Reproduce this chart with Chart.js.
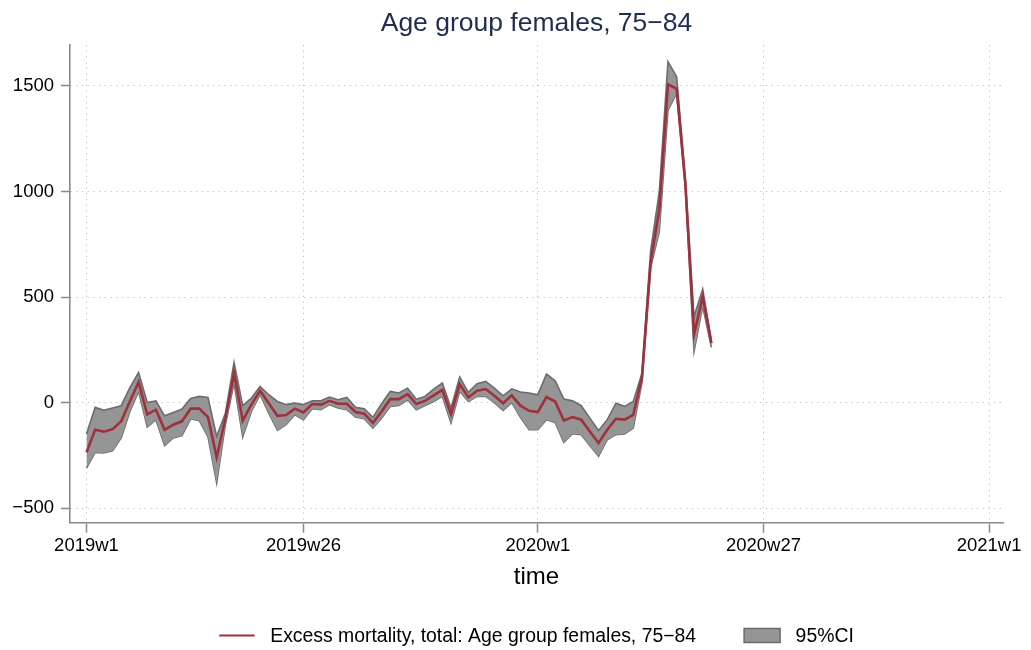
<!DOCTYPE html>
<html>
<head>
<meta charset="utf-8">
<script src="https://cdn.jsdelivr.net/npm/chart.js@4.4.1/dist/chart.umd.min.js"></script>
<style>
  html, body { margin: 0; padding: 0; background: #ffffff; }
  #wrap { width: 1031px; height: 650px; position: relative; }
</style>
</head>
<body>
<div id="wrap"><canvas id="c" width="1031" height="650"></canvas></div>
<script>
// ---- data ----
const weeks = [
  '2019w1','2019w2','2019w3','2019w4','2019w5','2019w6','2019w7','2019w8','2019w9','2019w10',
  '2019w11','2019w12','2019w13','2019w14','2019w15','2019w16','2019w17','2019w18','2019w19','2019w20',
  '2019w21','2019w22','2019w23','2019w24','2019w25','2019w26','2019w27','2019w28','2019w29','2019w30',
  '2019w31','2019w32','2019w33','2019w34','2019w35','2019w36','2019w37','2019w38','2019w39','2019w40',
  '2019w41','2019w42','2019w43','2019w44','2019w45','2019w46','2019w47','2019w48','2019w49','2019w50',
  '2019w51','2019w52','2020w1','2020w2','2020w3','2020w4','2020w5','2020w6','2020w7','2020w8',
  '2020w9','2020w10','2020w11','2020w12','2020w13','2020w14','2020w15','2020w16','2020w17','2020w18',
  '2020w19','2020w20','2020w21'
];
const excess = [
  -235, -128, -137, -125, -88, 6, 98, -55, -33, -128,
  -104, -88, -28, -28, -68, -259, -75, 140, -85, -9,
  57, -2, -62, -58, -28, -46, -6, -9, 9, -5,
  -5, -44, -52, -96, -41, 17, 17, 41, -6, 9,
  35, 61, -54, 88, 25, 57, 65, 33, -2, 35,
  -14, -38, -44, 27, 6, -84, -68, -80, -136, -191,
  -128, -76, -80, -57, 120, 665, 916, 1508, 1486, 1039,
  322, 503, 282
];
const ciUpper = [
  -148, -22, -36, -25, -14, 72, 143, 1, 9, -62,
  -46, -30, 20, 30, 25, -159, -50, 191, -14, 22,
  77, 38, 6, -9, -2, -9, 9, 9, 27, 14,
  25, -22, -28, -69, -5, 54, 46, 69, 17, 30,
  65, 93, -25, 122, 49, 90, 101, 69, 33, 66,
  51, 46, 38, 136, 104, 17, 9, -14, -73, -131,
  -80, -2, -17, 6, 140, 720, 1000, 1615, 1544, 1060,
  408, 538, 295
];
const ciLower = [
  -309, -235, -238, -227, -167, -41, 54, -115, -80, -203,
  -167, -155, -76, -85, -162, -380, -105, 93, -162, -41,
  38, -49, -131, -104, -57, -80, -28, -33, -9, -25,
  -33, -68, -76, -120, -73, -17, -13, 14, -33, -13,
  6, 30, -96, 54, 6, 30, 30, 1, -36, 1,
  -69, -128, -128, -80, -93, -188, -147, -151, -203, -254,
  -175, -151, -148, -120, 95, 640, 810, 1386, 1465, 1020,
  243, 456, 262
];
const xTickLabels = ['2019w1', '2019w26', '2020w1', '2020w27', '2021w1'];
const yTickValues = [-500, 0, 500, 1000, 1500];
const titleText = 'Age group females, 75\u221284';
const seriesLabel = 'Excess mortality, total: Age group females, 75\u221284';
const ciLabel = '95%CI';
const xTitle = 'time';

// ---- helpers ----
// Stata weekly dates: 52 weeks per year, 2019w1 = 0
function weekIndex(lbl) {
  const m = lbl.match(/^(\d{4})w(\d+)$/);
  return (parseInt(m[1], 10) - 2019) * 52 + parseInt(m[2], 10) - 1;
}
const toPts = arr => arr.map((v, i) => ({ x: weekIndex(weeks[i]), y: v }));
const xTickPos = xTickLabels.map(weekIndex);
const xLabelByPos = {};
xTickLabels.forEach(l => { xLabelByPos[weekIndex(l)] = l; });

const FONT = "'Liberation Sans', Arial, Helvetica, sans-serif";
const RED = '#a0303c';
const BAND_FILL = '#959595';
const BAND_EDGE = '#6c6c6c';
const AXIS = '#8a8a8a';
const GRID = '#bdbdbd';

Chart.defaults.font.family = FONT;
Chart.defaults.color = '#000000';

const legendPlugin = {
  id: 'stataLegend',
  afterDraw(chart) {
    const ctx = chart.ctx;
    const area = chart.chartArea;
    const fs = 19.4;
    ctx.save();
    ctx.font = fs + 'px ' + FONT;
    const w1 = ctx.measureText(seriesLabel).width;
    const w2 = ctx.measureText(ciLabel).width;
    const keyW = 35.5, gapKey = 15.5, gapItems = 48, boxW = 36;
    const total = keyW + gapKey + w1 + gapItems + boxW + gapKey + w2;
    let x = (area.left + area.right) / 2 - total / 2;
    const base = 642.3;
    const mid = 635.6;
    // line key
    ctx.strokeStyle = RED;
    ctx.lineWidth = 2;
    ctx.beginPath();
    ctx.moveTo(x, mid);
    ctx.lineTo(x + keyW, mid);
    ctx.stroke();
    x += keyW + gapKey;
    ctx.fillStyle = '#000';
    ctx.textBaseline = 'alphabetic';
    ctx.textAlign = 'left';
    ctx.fillText(seriesLabel, x, base);
    x += w1 + gapItems;
    // box key
    ctx.fillStyle = BAND_FILL;
    ctx.fillRect(x, 628.5, boxW, 14);
    ctx.strokeStyle = BAND_EDGE;
    ctx.lineWidth = 1.5;
    ctx.strokeRect(x, 628.5, boxW, 14);
    x += boxW + gapKey;
    ctx.fillStyle = '#000';
    ctx.fillText(ciLabel, x, base);
    ctx.restore();
  }
};

new Chart(document.getElementById('c'), {
  type: 'line',
  data: {
    datasets: [
      {
        label: seriesLabel,
        data: toPts(excess),
        borderColor: RED,
        borderWidth: 2.6,
        pointRadius: 0,
        tension: 0,
        fill: false,
        order: 0
      },
      {
        label: ciLabel,
        data: toPts(ciUpper),
        borderColor: BAND_EDGE,
        borderWidth: 1.6,
        backgroundColor: BAND_FILL,
        pointRadius: 0,
        tension: 0,
        fill: '+1',
        order: 1
      },
      {
        label: ciLabel + ' lower',
        data: toPts(ciLower),
        borderColor: BAND_EDGE,
        borderWidth: 1.6,
        backgroundColor: BAND_FILL,
        pointRadius: 0,
        tension: 0,
        fill: false,
        order: 2
      }
    ]
  },
  options: {
    responsive: false,
    animation: false,
    devicePixelRatio: 1,
    layout: { padding: { left: 0, right: 28, top: 0, bottom: 58 } },
    plugins: {
      legend: { display: false },
      tooltip: { enabled: false },
      title: {
        display: true,
        text: titleText,
        fullSize: false,
        color: '#1f2d50',
        font: { size: 26.5, weight: 'normal', family: FONT },
        padding: { top: 8.2, bottom: 5 }
      }
    },
    scales: {
      x: {
        type: 'linear',
        min: -1.9,
        max: 105.6,
        afterFit(s) { s.height = 69.3; },
        afterBuildTicks(s) { s.ticks = xTickPos.map(v => ({ value: v })); },
        ticks: {
          autoSkip: false,
          maxRotation: 0,
          padding: 2,
          font: { size: 18.5 },
          color: '#000',
          callback: v => xLabelByPos[v] || ''
        },
        grid: {
          color: GRID,
          lineWidth: 1,
          tickLength: 10,
          tickColor: AXIS,
          tickWidth: 1.5,
          tickBorderDash: []
        },
        border: { display: true, color: AXIS, width: 1.6, dash: [1.2, 4.5] },
        title: {
          display: true,
          text: xTitle,
          font: { size: 24, family: FONT },
          color: '#000',
          padding: { top: 0, bottom: 0 }
        }
      },
      y: {
        type: 'linear',
        min: -568,
        max: 1694,
        afterFit(s) { s.width = 70; },
        afterBuildTicks(s) { s.ticks = yTickValues.map(v => ({ value: v })); },
        ticks: {
          padding: 7,
          font: { size: 18.5 },
          color: '#000',
          callback: v => (v < 0 ? '\u2212' + Math.abs(v) : String(v))
        },
        grid: {
          color: GRID,
          lineWidth: 1,
          tickLength: 9,
          tickColor: AXIS,
          tickWidth: 1.5,
          tickBorderDash: []
        },
        border: { display: true, color: AXIS, width: 1.6, dash: [1.2, 4.5] }
      }
    }
  },
  plugins: [legendPlugin]
});
</script>
</body>
</html>
